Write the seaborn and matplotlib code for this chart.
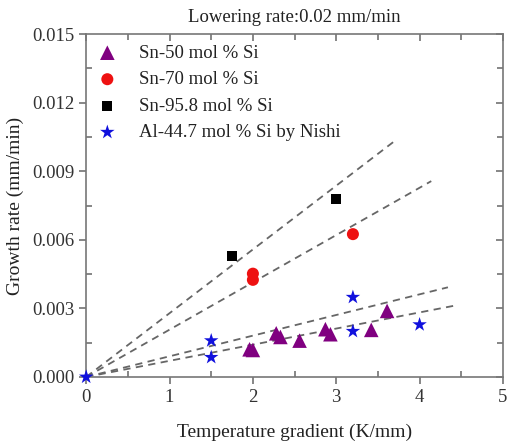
import pandas as pd
import numpy as np
import matplotlib
matplotlib.use("Agg")
import matplotlib.pyplot as plt
import seaborn as sns
from matplotlib.ticker import MultipleLocator

# ---------------- DATA ----------------
sn50_x = [1.96, 2.0, 2.28, 2.33, 2.56, 2.87, 2.93, 3.42, 3.61]
sn50_y = [0.00121, 0.00118, 0.00191, 0.00175, 0.00159, 0.00209, 0.00187, 0.00206, 0.00289]

sn70_x = [2.0, 2.0, 3.2]
sn70_y = [0.00452, 0.00425, 0.00625]

sn958_x = [1.75, 3.0]
sn958_y = [0.00528, 0.00780]

nishi_x = [0.0, 1.5, 1.5, 3.2, 3.2, 4.0]
nishi_y = [0.0, 0.00159, 0.00086, 0.00349, 0.00200, 0.00229]

labels = ["Sn-50 mol % Si", "Sn-70 mol % Si", "Sn-95.8 mol % Si", "Al-44.7 mol % Si by Nishi"]

# fitted lines through origin: slope and end x
fit_slopes = [0.00279, 0.00207, 0.000904, 0.000706]
fit_xend = [3.72, 4.14, 4.34, 4.42]

# ---------------- TABLE ----------------
frames = []
for lab, xs, ys in zip(labels, [sn50_x, sn70_x, sn958_x, nishi_x], [sn50_y, sn70_y, sn958_y, nishi_y]):
    frames.append(pd.DataFrame({"x": xs, "y": ys, "series": lab}))
df = pd.concat(frames, ignore_index=True)

palette = dict(zip(labels, ["#800080", "#ee1111", "#000000", "#1010dd"]))
markers = dict(zip(labels, ["^", "o", "s", "*"]))
sizes = dict(zip(labels, [110, 75, 55, 120]))

# ---------------- PLOT ----------------
sns.set_style("ticks")
plt.rcParams["font.family"] = ["Liberation Serif", "DejaVu Serif"]

fig = plt.figure(figsize=(5.07, 4.44), dpi=100)
ax = fig.add_axes([0.170, 0.151, 0.822, 0.772])

# dashed fit lines
for s, xe in zip(fit_slopes, fit_xend):
    xs = np.array([0.0, xe])
    ax.plot(xs, s * xs, ls=(0, (4, 3)), color="#666666", lw=1.3, zorder=1)

for lab in labels:
    sub = df[df["series"] == lab]
    sns.scatterplot(data=sub, x="x", y="y", marker=markers[lab], color=palette[lab],
                    s=sizes[lab], edgecolor="none", linewidth=0, ax=ax, label=lab,
                    zorder=3, clip_on=False)

ax.set_xlim(0, 5)
ax.set_ylim(0, 0.015)
ax.xaxis.set_major_locator(MultipleLocator(1))
ax.xaxis.set_minor_locator(MultipleLocator(0.5))
ax.yaxis.set_major_locator(MultipleLocator(0.003))
ax.yaxis.set_minor_locator(MultipleLocator(0.0015))
ax.yaxis.set_major_formatter(matplotlib.ticker.FormatStrFormatter("%.3f"))

for side in ["top", "right", "left", "bottom"]:
    ax.spines[side].set_visible(True)
    ax.spines[side].set_color("#777777")
    ax.spines[side].set_linewidth(1.2)

ax.tick_params(which="major", direction="out", length=5, width=1.1, color="#666666",
               labelsize=13.5, labelcolor="#333333", top=True, right=True)
ax.tick_params(which="minor", direction="in", length=4, width=1.1, color="#666666",
               top=True, right=True)
for t in ax.xaxis.get_major_ticks():
    t.tick2line.set_marker(matplotlib.lines.TICKDOWN)
for t in ax.yaxis.get_major_ticks():
    t.tick2line.set_marker(matplotlib.lines.TICKLEFT)

ax.set_xlabel("Temperature gradient (K/mm)", fontsize=14, color="#222222", labelpad=13)
ax.set_ylabel("Growth rate (mm/min)", fontsize=14, color="#222222", labelpad=6)
ax.set_title("Lowering rate:0.02 mm/min", fontsize=13.5, color="#222222", pad=9)

leg = ax.legend(loc="upper left", bbox_to_anchor=(-0.01, 1.0), frameon=False, fontsize=13.5,
                handletextpad=0.9, borderaxespad=0.15, labelspacing=0.5, handlelength=1.6)
for txt in leg.get_texts():
    txt.set_color("#222222")

plt.savefig("out.png", dpi=100)
